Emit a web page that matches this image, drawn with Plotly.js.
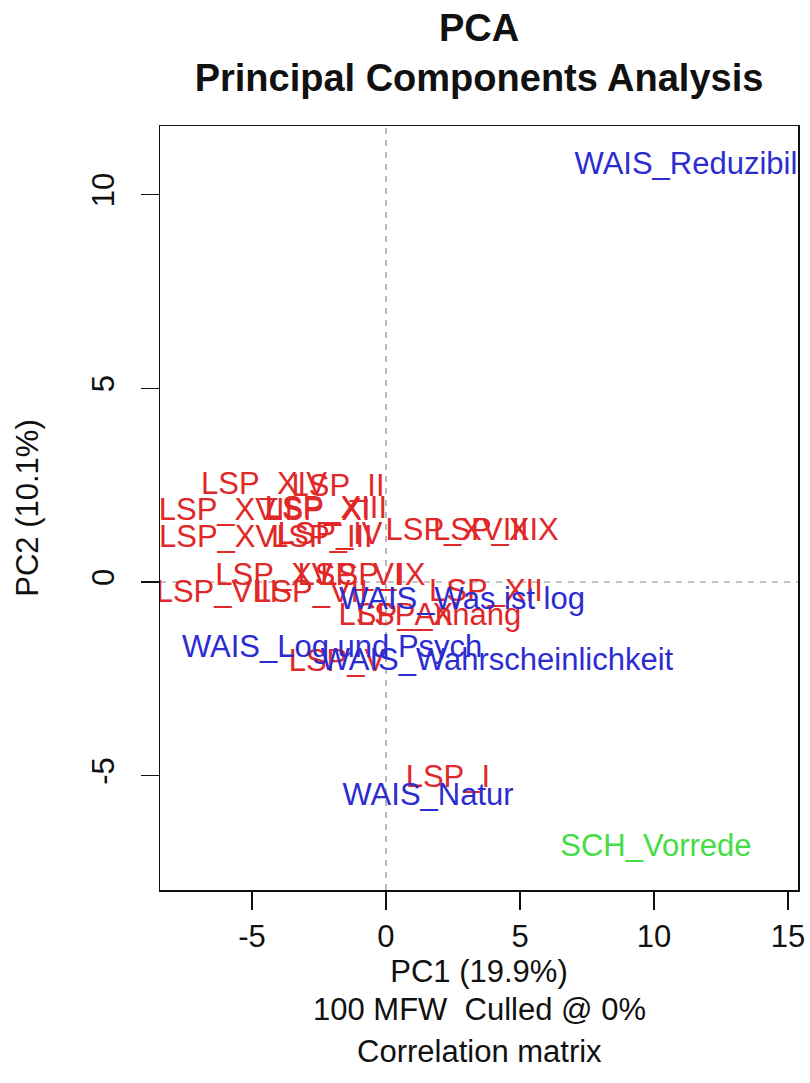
<!DOCTYPE html>
<html>
<head>
<meta charset="utf-8">
<script src="https://cdn.plot.ly/plotly-3.0.1.min.js"></script>
<style>html,body{margin:0;padding:0;background:#fff;}#chart{width:810px;height:1083px;}</style>
</head>
<body>
<div id="chart"></div>
<script>
// LSP samples (red)
const lspLabels = ["LSP_I","LSP_II","LSP_III","LSP_IV","LSP_V","LSP_VI","LSP_VII","LSP_VIII","LSP_IX","LSP_X",
                   "LSP_XI","LSP_XII","LSP_XIII","LSP_XIV","LSP_XV","LSP_XVI","LSP_XVII","LSP_XVIII","LSP_XIX","LSP_Anhang"];
const lspX = [2.31,-1.79,-2.39,-2.09,-1.83,-1.34,-2.80,-6.31,-0.49,0.71,
              -2.54,3.73,-2.24,-4.55,-4.18,-6.12,-5.97,2.65,4.10,1.64];
const lspY = [-5.09,2.43,1.11,1.19,-2.09,0.13,-0.31,-0.31,0.13,-0.90,
              1.81,-0.28,1.86,2.48,0.13,1.11,1.81,1.29,1.29,-0.90];

// WAIS samples (blue)
const waisLabels = ["WAIS_Reduzibil","WAIS_Was ist log","WAIS_Log und Psych","WAIS_Wahrscheinlichkeit","WAIS_Natur"];
const waisX = [11.19,2.84,-2.01,4.14,1.57];
const waisY = [10.72,-0.49,-1.73,-2.07,-5.55];

// SCH samples (green)
const schLabels = ["SCH_Vorrede"];
const schX = [10.07];
const schY = [-6.87];

const xTicks = [-5,0,5,10,15];
const yTicks = [-5,0,5,10];

const FONT = "Liberation Sans, Arial, sans-serif";
const TXT = 31;

function textTrace(x, y, labels, color){
  return {type:"scatter", mode:"text", x:x, y:y, text:labels,
          textposition:"middle center", cliponaxis:true,
          textfont:{family:FONT, size:TXT, color:color}, hoverinfo:"skip"};
}

const data = [
  textTrace(lspX, lspY, lspLabels, "#e02828"),
  textTrace(waisX, waisY, waisLabels, "#2c2cd0"),
  textTrace(schX, schY, schLabels, "#44dd44")
];

const layout = {
  width:810, height:1083,
  margin:{l:160, r:12, t:126, b:193},
  paper_bgcolor:"#fff", plot_bgcolor:"#fff",
  showlegend:false, hovermode:false,
  font:{family:FONT, color:"#111"},
  title:{text:"PCA<br>Principal Components Analysis", font:{family:FONT, size:38, color:"#111", weight:"bold"},
         xref:"paper", x:0.5, xanchor:"center", yref:"container", y:0.962, yanchor:"top"},
  xaxis:{range:[-8.43,15.37], tickvals:xTicks, ticktext:xTicks.map(String),
         ticks:"outside", ticklen:18, tickwidth:1.5, tickcolor:"#111",
         showline:true, mirror:true, linecolor:"#111", linewidth:1.5,
         showgrid:false, zeroline:false, ticklabelstandoff:0,
         tickfont:{family:FONT, size:TXT, color:"#111"},
         title:{text:"PC1 (19.9%)", font:{family:FONT, size:TXT, color:"#111"}, standoff:3}},
  yaxis:{range:[-7.95,11.77], tickvals:yTicks, ticktext:yTicks.map(String), tickangle:-90,
         ticks:"outside", ticklen:18, tickwidth:1.5, tickcolor:"#111",
         showline:true, mirror:true, linecolor:"#111", linewidth:1.5,
         showgrid:false, zeroline:false, ticklabelstandoff:14,
         tickfont:{family:FONT, size:TXT, color:"#111"},
         title:{text:"PC2 (10.1%)", font:{family:FONT, size:TXT, color:"#111"}, standoff:38}},
  shapes:[
    {type:"line", xref:"x", yref:"paper", x0:0, x1:0, y0:0, y1:1, layer:"below",
     line:{color:"#8a8a8a", width:1.2, dash:"6px,6px"}},
    {type:"line", xref:"paper", yref:"y", x0:0, x1:1, y0:0, y1:0, layer:"below",
     line:{color:"#8a8a8a", width:1.2, dash:"6px,6px"}}
  ],
  annotations:[
    {text:"100 MFW\u00a0 Culled @ 0%", xref:"paper", yref:"paper", x:0.5, y:-0.157, xanchor:"center", yanchor:"middle",
     showarrow:false, font:{family:FONT, size:TXT, color:"#111"}},
    {text:"Correlation matrix", xref:"paper", yref:"paper", x:0.5, y:-0.212, xanchor:"center", yanchor:"middle",
     showarrow:false, font:{family:FONT, size:TXT, color:"#111"}}
  ]
};

Plotly.newPlot("chart", data, layout, {staticPlot:true, displayModeBar:false});
</script>
</body>
</html>
